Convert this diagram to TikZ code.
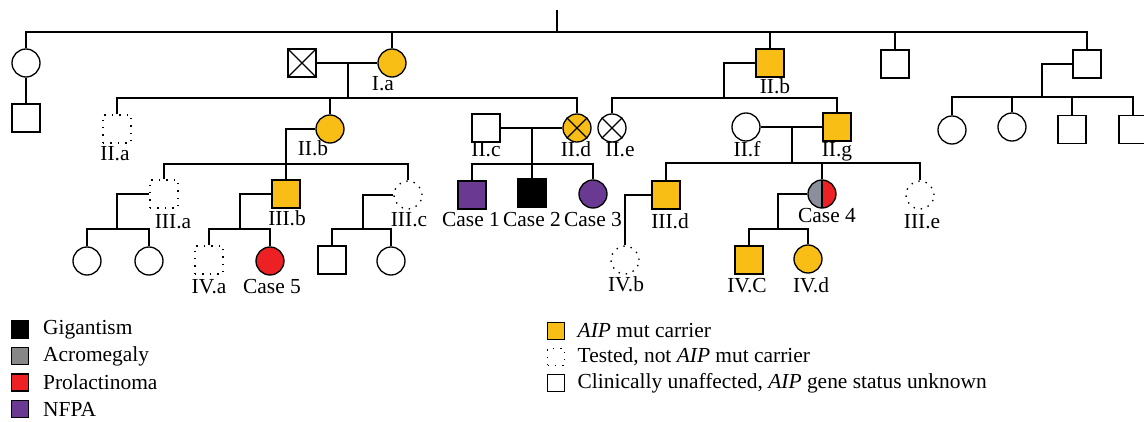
\documentclass[tikz,border=0pt]{standalone}
\usepackage{fontspec}
\setmainfont{Liberation Serif}
\newfontfamily\pedfont{Liberation Serif}
\usetikzlibrary{positioning}
\definecolor{aipyellow}{HTML}{F8BE16}
\definecolor{acrogray}{HTML}{878787}
\definecolor{halfgray}{HTML}{8B8E9B}
\definecolor{prlred}{HTML}{ED2124}
\definecolor{nfpa}{HTML}{6A3A92}

\begin{document}
\begin{tikzpicture}[x=0.02cm, y=-0.02cm, line width=0.75pt,
    male/.style={draw, rectangle, inner sep=0pt, minimum size=0.56cm},
    female/.style={draw, circle, inner sep=0pt, minimum size=0.56cm},
    carrier/.style={fill=aipyellow},
    tested/.style={dash pattern=on 0.8pt off 3.4pt},
    halfcase/.style={path picture={
        \fill[halfgray] (path picture bounding box.south west) rectangle (path picture bounding box.north);
        \fill[prlred] (path picture bounding box.south) rectangle (path picture bounding box.north east);
        \draw (path picture bounding box.south) -- (path picture bounding box.north);}},
    lbl/.style={anchor=base, inner sep=0pt, font=\pedfont\fontsize{12.2pt}{14pt}\selectfont},
    keybox/.style={draw, rectangle, inner sep=0pt, minimum size=0.34cm, line width=0.6pt},
    keytext/.style={anchor=west, inner sep=0pt, font=\pedfont\fontsize{12.2pt}{14pt}\selectfont}
]
\useasboundingbox (0,0) rectangle (1144,422);

% generation I
\node[female] (w1) at (26,63) {};
\node[male] (w1s) at (26,118) {};
\node[male] (Isp) at (302,63) {};
\node[female, carrier] (Ia) at (392,63) {};
\node[male, carrier] (IIbr) at (770,63) {};
\node[male] (u1) at (895,64) {};
\node[male] (u2) at (1087,64) {};

% generation II
\node[male, tested] (IIa) at (117,129) {};
\node[female, carrier] (IIb) at (330,129) {};
\node[male] (IIc) at (486,128) {};
\node[female, carrier] (IId) at (577,128) {};
\node[female] (IIe) at (612,128) {};
\node[female] (IIf) at (746,127) {};
\node[male, carrier] (IIg) at (837,127) {};
\node[female] (u2a) at (952,130) {};
\node[female] (u2b) at (1012,127) {};
\node[male] (u2c) at (1072,129.5) {};
\node[male] (u2d) at (1133,129.5) {};

% generation III
\node[male, tested] (IIIa) at (164,194) {};
\node[male, carrier] (IIIb) at (286,194) {};
\node[female, tested] (IIIc) at (408,195) {};
\node[male, fill=nfpa] (case1) at (472,195) {};
\node[male, fill=black] (case2) at (532,193) {};
\node[female, fill=nfpa] (case3) at (593,194) {};
\node[male, carrier] (IIId) at (666,195) {};
\node[female, halfcase] (case4) at (822,194) {};
\node[female, tested] (IIIe) at (920,195) {};

% generation IV
\node[female] (a1) at (87,261) {};
\node[female] (a2) at (149,261) {};
\node[male, tested] (IVa) at (209,260) {};
\node[female, fill=prlred] (case5) at (270,261) {};
\node[male] (c1) at (332,260) {};
\node[female] (c2) at (391,261) {};
\node[female, tested] (IVb) at (625,260) {};
\node[male, carrier] (IVC) at (749,260) {};
\node[female, carrier] (IVd) at (808,259) {};

% crosses
\draw (Isp.north west) -- (Isp.south east) (Isp.north east) -- (Isp.south west);
\draw (IId.north west) -- (IId.south east) (IId.north east) -- (IId.south west);
\draw (IIe.north west) -- (IIe.south east) (IIe.north east) -- (IIe.south west);

% lines
\coordinate (top) at (557,10);
\coordinate (sib1) at (557,32);
\draw (top) -- (sib1);
\draw (w1.north) |- (sib1) -| (u2.north);
\foreach \n in {Ia,IIbr,u1} \draw (\n.north) -- (\n.north |- sib1);
\draw (w1.south) -- (w1s.north);

\draw (Isp.east) -- (Ia.west);
\coordinate (m1) at (348,63);
\coordinate (sib2) at (348,98);
\draw (m1) -- (sib2);
\draw (IIa.north) |- (sib2) -| (IId.north);
\draw (IIb.north) -- (IIb.north |- sib2);

\coordinate (sib3) at (724,98);
\draw (IIbr.west) -| (sib3);
\draw (IIe.north) |- (sib3) -| (IIg.north);

\coordinate (sib4) at (1042,97);
\draw (u2.west) -| (sib4);
\draw (u2a.north) |- (sib4) -| (u2d.north);
\foreach \n in {u2b,u2c} \draw (\n.north) -- (\n.north |- sib4);

\coordinate (sib5) at (286,164);
\draw (IIb.west) -| (IIIb.north);
\draw (IIIa.north) |- (sib5) -| (IIIc.north);

\draw (IIc.east) -- (IId.west);
\coordinate (m2) at (532,128);
\coordinate (sib6) at (532,164);
\draw (m2) -- (sib6);
\draw (case1.north) |- (sib6) -| (case3.north);
\draw (case2.north) -- (case2.north |- sib6);

\draw (IIf.east) -- (IIg.west);
\coordinate (m3) at (792,127);
\coordinate (sib7) at (792,163);
\draw (m3) -- (sib7);
\draw (IIId.north) |- (sib7) -| (IIIe.north);
\draw (case4.north) -- (case4.north |- sib7);

\coordinate (sib8) at (117,229);
\draw (IIIa.west) -| (sib8);
\draw (a1.north) |- (sib8) -| (a2.north);
\coordinate (sib9) at (240,229);
\draw (IIIb.west) -| (sib9);
\draw (IVa.north) |- (sib9) -| (case5.north);
\coordinate (sib10) at (363,229);
\draw (IIIc.west) -| (sib10);
\draw (c1.north) |- (sib10) -| (c2.north);
\draw (IIId.west) -| (IVb.north);
\coordinate (sib11) at (778,229);
\draw (case4.west) -| (sib11);
\draw (IVC.north) |- (sib11) -| (IVd.north);

% labels
\node[lbl] (tIa) at (383,91) {I.a};
\node[lbl] (tIIbr) at (775,94) {II.b};
\node[lbl] (tIIa) at (115,161) {II.a};
\node[lbl] (tIIb) at (313,156) {II.b};
\node[lbl] (tIIc) at (486,157) {II.c};
\node[lbl] (tIId) at (576,157) {II.d};
\node[lbl] (tIIe) at (620,157) {II.e};
\node[lbl] (tIIf) at (747,157) {II.f};
\node[lbl] (tIIg) at (837,157) {II.g};
\node[lbl] (tIIIa) at (173,229) {III.a};
\node[lbl] (tIIIb) at (287,226) {III.b};
\node[lbl] (tIIIc) at (409,227) {III.c};
\node[lbl] (tcase1) at (471,227) {Case 1};
\node[lbl] (tcase2) at (532,227) {Case 2};
\node[lbl] (tcase3) at (593,227) {Case 3};
\node[lbl] (tIIId) at (670,229) {III.d};
\node[lbl] (tcase4) at (827,223) {Case 4};
\node[lbl] (tIIIe) at (922,229) {III.e};
\node[lbl] (tIVa) at (209,294) {IV.a};
\node[lbl] (tcase5) at (272,294) {Case 5};
\node[lbl] (tIVb) at (626,292) {IV.b};
\node[lbl] (tIVC) at (747,293) {IV.C};
\node[lbl] (tIVd) at (811,293) {IV.d};

% key
\node[keybox, fill=black] (k1) at (20,329.5) {};
\node[keybox, fill=acrogray] (k2) at (20,356) {};
\node[keybox, fill=prlred] (k3) at (20,382.5) {};
\node[keybox, fill=nfpa] (k4) at (20,409) {};
\node[keytext, right=0.27cm of k1] (tk1) {Gigantism};
\node[keytext, right=0.27cm of k2] (tk2) {Acromegaly};
\node[keytext, right=0.27cm of k3] (tk3) {Prolactinoma};
\node[keytext, right=0.27cm of k4] (tk4) {NFPA};
\node[keybox, fill=aipyellow] (k5) at (556,331) {};
\node[keybox, tested] (k6) at (556,357) {};
\node[keybox] (k7) at (556,383) {};
\node[keytext, right=0.24cm of k5] (tk5) {\textit{AIP} mut carrier};
\node[keytext, right=0.24cm of k6] (tk6) {Tested, not \textit{AIP} mut carrier};
\node[keytext, right=0.24cm of k7] (tk7) {Clinically unaffected, \textit{AIP} gene status unknown};
\end{tikzpicture}
\end{document}
